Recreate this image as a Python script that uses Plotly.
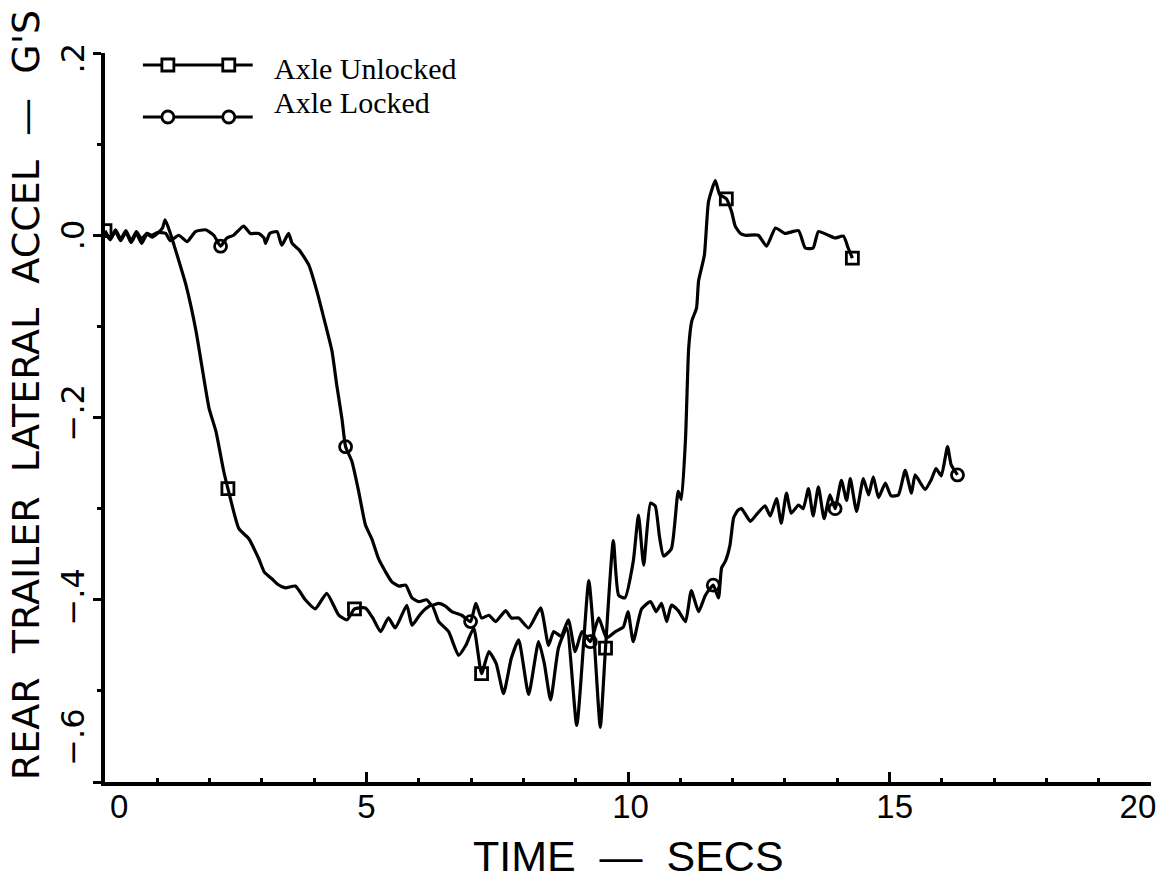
import numpy as np
import plotly.graph_objects as go

# ---------------- data ----------------
unlocked_t = [0.0, 0.1, 0.2, 0.3, 0.4, 0.5, 0.6, 0.7, 0.8, 0.9, 1.0, 1.1, 1.15, 1.25,
              1.38, 1.55, 1.74, 1.85, 1.99, 2.12, 2.27, 2.35, 2.56, 2.75, 2.94, 3.05,
              3.19, 3.3, 3.45, 3.64, 3.83, 4.02, 4.24, 4.47, 4.63, 4.77, 4.98, 5.12,
              5.27, 5.42, 5.55, 5.77, 5.87, 6.0, 6.13, 6.25, 6.38, 6.57, 6.76, 6.9,
              7.05, 7.2, 7.34, 7.48, 7.62, 7.77, 7.91, 8.1, 8.29, 8.4, 8.52, 8.67,
              8.83, 9.02, 9.25, 9.36, 9.47, 9.57, 9.72, 9.82, 9.94, 10.1, 10.2, 10.3,
              10.43, 10.52, 10.6, 10.68, 10.83, 10.96, 11.02, 11.1, 11.16, 11.22,
              11.31, 11.35, 11.46, 11.54, 11.67, 11.75, 11.88, 11.98, 12.05, 12.15,
              12.24, 12.49, 12.65, 12.82, 13.0, 13.26, 13.39, 13.54, 13.64, 13.83,
              13.96, 14.12, 14.21, 14.29]
unlocked_g = [0.005, -0.004, 0.004, -0.006, 0.003, -0.008, 0.002, -0.009, 0.001, -0.002,
              0.002, 0.008, 0.017, 0.002, -0.022, -0.055, -0.105, -0.143, -0.19, -0.215,
              -0.259, -0.278, -0.322, -0.333, -0.355, -0.37, -0.377, -0.383, -0.387,
              -0.385, -0.4, -0.41, -0.393, -0.417, -0.422, -0.41, -0.409, -0.42, -0.435,
              -0.42, -0.431, -0.406, -0.428, -0.418, -0.41, -0.406, -0.424, -0.435,
              -0.461, -0.45, -0.431, -0.481, -0.457, -0.47, -0.503, -0.464, -0.444,
              -0.504, -0.446, -0.47, -0.51, -0.453, -0.431, -0.538, -0.379, -0.45,
              -0.54, -0.453, -0.335, -0.395, -0.398, -0.358, -0.307, -0.362, -0.294,
              -0.297, -0.33, -0.352, -0.344, -0.281, -0.29, -0.223, -0.124, -0.094,
              -0.08, -0.05, -0.022, 0.037, 0.06, 0.045, 0.04, 0.026, 0.01, 0.002, 0.0,
              0.0, -0.012, 0.008, 0.002, 0.005, -0.014, -0.014, 0.004, 0.0, -0.003,
              -0.001, -0.014, -0.025]

locked_t = [0.0, 0.1, 0.2, 0.3, 0.4, 0.5, 0.6, 0.7, 0.8, 0.9, 1.0, 1.16, 1.25, 1.41,
            1.57, 1.73, 1.92, 2.08, 2.21, 2.33, 2.46, 2.65, 2.78, 2.94, 3.04, 3.07,
            3.15, 3.29, 3.38, 3.51, 3.58, 3.71, 3.9, 4.05, 4.22, 4.34, 4.43, 4.53,
            4.6, 4.72, 4.85, 4.98, 5.1, 5.23, 5.36, 5.48, 5.62, 5.75, 5.87, 6.0, 6.15,
            6.25, 6.38, 6.51, 6.63, 6.82, 6.99, 7.09, 7.2, 7.34, 7.47, 7.66, 7.77,
            7.91, 8.1, 8.33, 8.48, 8.58, 8.72, 8.86, 8.99, 9.12, 9.28, 9.44, 9.59,
            9.76, 9.91, 10.0, 10.1, 10.26, 10.43, 10.54, 10.64, 10.74, 10.83, 10.96,
            11.1, 11.21, 11.35, 11.48, 11.63, 11.73, 11.79, 11.86, 11.95, 12.02, 12.1,
            12.17, 12.34, 12.45, 12.62, 12.72, 12.84, 12.93, 13.03, 13.12, 13.26,
            13.35, 13.45, 13.54, 13.64, 13.75, 13.86, 13.96, 14.08, 14.18, 14.25,
            14.37, 14.5, 14.6, 14.69, 14.79, 14.92, 15.03, 15.17, 15.3, 15.42, 15.49,
            15.68, 15.8, 15.89, 15.99, 16.11, 16.18, 16.3]
locked_g = [0.004, -0.005, 0.006, -0.004, 0.005, -0.006, 0.004, -0.004, 0.002, 0.0,
            0.003, 0.002, -0.006, 0.0, -0.007, 0.004, 0.006, 0.0, -0.012, -0.003, 0.0,
            0.01, 0.002, 0.002, -0.003, -0.009, 0.002, 0.004, -0.011, 0.002, -0.009,
            -0.016, -0.033, -0.061, -0.099, -0.127, -0.164, -0.201, -0.232, -0.248,
            -0.281, -0.318, -0.333, -0.355, -0.369, -0.38, -0.385, -0.384, -0.398,
            -0.402, -0.4, -0.406, -0.404, -0.407, -0.413, -0.417, -0.424, -0.404,
            -0.42, -0.417, -0.424, -0.412, -0.42, -0.42, -0.431, -0.409, -0.45,
            -0.435, -0.44, -0.422, -0.457, -0.435, -0.446, -0.42, -0.442, -0.435,
            -0.43, -0.413, -0.446, -0.41, -0.402, -0.413, -0.404, -0.424, -0.406,
            -0.412, -0.424, -0.39, -0.413, -0.395, -0.384, -0.398, -0.365, -0.358,
            -0.34, -0.31, -0.302, -0.3, -0.314, -0.307, -0.297, -0.308, -0.289,
            -0.316, -0.283, -0.305, -0.296, -0.3, -0.278, -0.308, -0.276, -0.311,
            -0.285, -0.3, -0.269, -0.291, -0.267, -0.303, -0.267, -0.285, -0.265,
            -0.288, -0.272, -0.286, -0.285, -0.258, -0.283, -0.263, -0.279, -0.268,
            -0.256, -0.264, -0.232, -0.252, -0.263]

unlocked_marker_t = [0.0, 2.35, 4.77, 7.2, 9.57, 11.88, 14.29]
locked_marker_t = [2.21, 4.6, 6.99, 9.28, 11.63, 13.96, 16.3]

series_names = ["Axle Unlocked", "Axle Locked"]

x_major = [0, 5, 10, 15, 20]
x_labels = ["0", "5", "10", "15", "20"]
x_label_pos = [0.27, 5, 10.05, 15.1, 19.75]
y_major = [0.2, 0.0, -0.2, -0.4, -0.6]
y_labels = [".2", ".0", "\u2212.2", "\u2212.4", "\u2212.6"]
y_label_pos = [0.189, -0.005, -0.2, -0.402, -0.556]

x_title = "TIME  \u2014  SECS"
y_title = "REAR  TRAILER  LATERAL  ACCEL  \u2014  G'S"

# ---------------- figure ----------------
W, H = 1168, 881
ML, MR, MT, MB = 105, 15, 53, 99
PW, PH = W - ML - MR, H - MT - MB

def px_x(p):
    return (p - ML) / PW

def px_y(p):
    return (H - MB - p) / PH

BLACK = "#000000"
fig = go.Figure()

LINE = dict(color=BLACK, width=3.2, shape="spline", smoothing=0.5)
fig.add_trace(go.Scatter(x=unlocked_t, y=unlocked_g, mode="lines", line=LINE,
                         name=series_names[0], showlegend=False))
fig.add_trace(go.Scatter(x=locked_t, y=locked_g, mode="lines", line=LINE,
                         name=series_names[1], showlegend=False))
fig.add_trace(go.Scatter(x=unlocked_marker_t,
                         y=np.interp(unlocked_marker_t, unlocked_t, unlocked_g),
                         mode="markers", showlegend=False,
                         marker=dict(symbol="square-open", size=12, color=BLACK,
                                     line=dict(width=2.8, color=BLACK))))
fig.add_trace(go.Scatter(x=locked_marker_t,
                         y=np.interp(locked_marker_t, locked_t, locked_g),
                         mode="markers", showlegend=False,
                         marker=dict(symbol="circle-open", size=12, color=BLACK,
                                     line=dict(width=2.8, color=BLACK))))
# empty trace to carry the label axes
fig.add_trace(go.Scatter(x=[None], y=[None], xaxis="x2", yaxis="y2",
                         showlegend=False, hoverinfo="skip"))

TICKFONT_Y = dict(family="DejaVu Sans, Liberation Sans, sans-serif", size=32, color=BLACK)
TICKFONT_X = dict(family="Liberation Sans, Arial, sans-serif", size=33, color=BLACK)

fig.update_layout(
    width=W, height=H,
    margin=dict(l=ML, r=MR, t=MT, b=MB, pad=0),
    paper_bgcolor="white", plot_bgcolor="white",
    showlegend=False,
    xaxis=dict(range=[0, 20], showline=True, linewidth=4, linecolor=BLACK,
               showgrid=False, zeroline=False, ticks="inside", ticklen=10,
               tickwidth=3, tickcolor=BLACK, tickvals=x_major, showticklabels=False,
               minor=dict(tick0=0, dtick=1, ticks="inside", ticklen=4, tickwidth=3,
                          tickcolor=BLACK, showgrid=False)),
    yaxis=dict(range=[-0.6, 0.2], showline=True, linewidth=4, linecolor=BLACK,
               showgrid=False, zeroline=False, ticks="outside", ticklen=8,
               tickwidth=3, tickcolor=BLACK, tickvals=y_major, showticklabels=False,
               minor=dict(tick0=0, dtick=0.1, ticks="outside", ticklen=4, tickwidth=3,
                          tickcolor=BLACK, showgrid=False)),
    xaxis2=dict(range=[0, 20], overlaying="x", anchor="y2", side="bottom",
                showline=False, showgrid=False, zeroline=False, ticks="",
                tickmode="array", tickvals=x_label_pos, ticktext=x_labels,
                tickfont=TICKFONT_X, ticklabelstandoff=2),
    yaxis2=dict(range=[-0.6, 0.2], overlaying="y", anchor="x2", side="left",
                showline=False, showgrid=False, zeroline=False, ticks="",
                tickmode="array", tickvals=y_label_pos, ticktext=y_labels,
                tickangle=-90, tickfont=TICKFONT_Y, ticklabelstandoff=14),
)

# axis titles
fig.add_annotation(text=y_title, xref="paper", yref="paper",
                   x=px_x(26), y=px_y(395), xanchor="center", yanchor="middle",
                   textangle=-90, showarrow=False,
                   font=dict(family="DejaVu Sans, Liberation Sans, sans-serif",
                             size=38, color=BLACK))
fig.add_annotation(text=x_title, xref="paper", yref="paper",
                   x=px_x(630), y=px_y(856), xanchor="center", yanchor="middle",
                   showarrow=False,
                   font=dict(family="Liberation Sans, Arial, sans-serif",
                             size=43, color=BLACK))

# hand-drawn legend in the upper left, as on the original plot
legend_rows = [(65, "square", series_names[0], 68), (117, "circle", series_names[1], 102)]
for ly, sym, label, ty in legend_rows:
    fig.add_shape(type="line", xref="paper", yref="paper",
                  x0=px_x(143), x1=px_x(253), y0=px_y(ly), y1=px_y(ly),
                  line=dict(color=BLACK, width=3))
    for mx in (168, 229):
        fig.add_shape(type="rect" if sym == "square" else "circle",
                      xref="paper", yref="paper",
                      xsizemode="pixel", ysizemode="pixel",
                      xanchor=px_x(mx), yanchor=px_y(ly),
                      x0=-6, x1=6, y0=-6, y1=6,
                      fillcolor="white", line=dict(color=BLACK, width=2.8))
    fig.add_annotation(text=label, xref="paper", yref="paper",
                       x=px_x(272), y=px_y(ty), xanchor="left", yanchor="middle",
                       showarrow=False,
                       font=dict(family="Liberation Serif, Times New Roman, serif",
                                 size=30, color=BLACK))

fig.write_html("out.html")
